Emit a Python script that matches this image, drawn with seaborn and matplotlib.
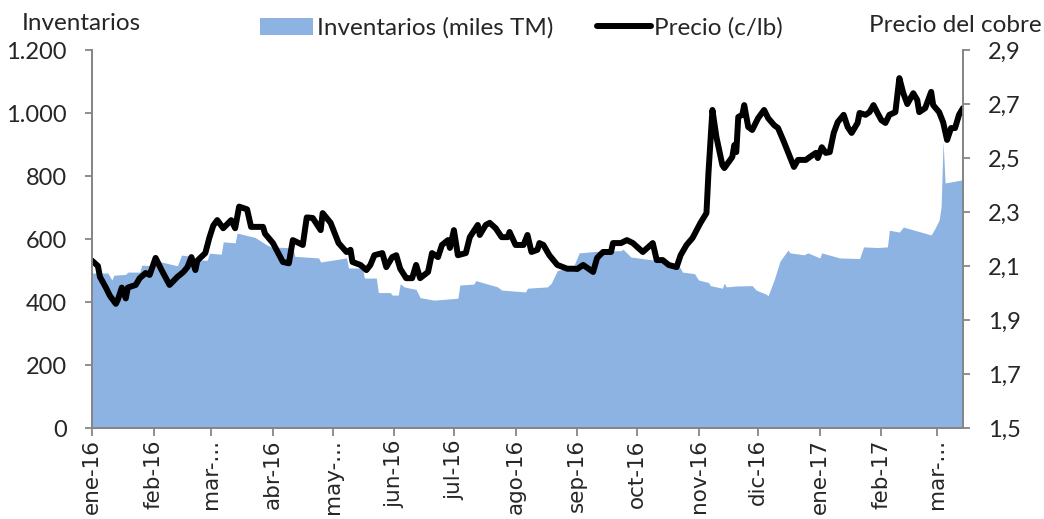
import matplotlib
matplotlib.use("Agg")
import matplotlib.pyplot as plt
from matplotlib.lines import Line2D
from matplotlib.patches import Patch
import pandas as pd
import seaborn as sns

# precio del cobre (US$/lb), lectura aproximada del grafico
precio_fechas = [
    "2016-01-01", "2016-01-04", "2016-01-05", "2016-01-08", "2016-01-10", "2016-01-13",
    "2016-01-14", "2016-01-16", "2016-01-18", "2016-01-19", "2016-01-23", "2016-01-25",
    "2016-01-28", "2016-01-30", "2016-02-02", "2016-02-05", "2016-02-09", "2016-02-13",
    "2016-02-16", "2016-02-18", "2016-02-20", "2016-02-22", "2016-02-23", "2016-02-27",
    "2016-02-29", "2016-03-02", "2016-03-04", "2016-03-07", "2016-03-11", "2016-03-13",
    "2016-03-15", "2016-03-19", "2016-03-21", "2016-03-27", "2016-03-28", "2016-04-01",
    "2016-04-06", "2016-04-09", "2016-04-11", "2016-04-16", "2016-04-18", "2016-04-21",
    "2016-04-25", "2016-04-26", "2016-04-30", "2016-05-04", "2016-05-08", "2016-05-10",
    "2016-05-11", "2016-05-15", "2016-05-18", "2016-05-20", "2016-05-22", "2016-05-26",
    "2016-05-28", "2016-05-31", "2016-06-02", "2016-06-04", "2016-06-07", "2016-06-10",
    "2016-06-12", "2016-06-14", "2016-06-18", "2016-06-20", "2016-06-23", "2016-06-25",
    "2016-06-28", "2016-06-29", "2016-07-01", "2016-07-03", "2016-07-07", "2016-07-09",
    "2016-07-13", "2016-07-14", "2016-07-17", "2016-07-19", "2016-07-22", "2016-07-25",
    "2016-07-28", "2016-07-29", "2016-08-01", "2016-08-05", "2016-08-07", "2016-08-09",
    "2016-08-12", "2016-08-13", "2016-08-15", "2016-08-18", "2016-08-22", "2016-08-27",
    "2016-08-30", "2016-09-01", "2016-09-04", "2016-09-09", "2016-09-11", "2016-09-14",
    "2016-09-18", "2016-09-19", "2016-09-23", "2016-09-26", "2016-09-29", "2016-10-04",
    "2016-10-09", "2016-10-11", "2016-10-14", "2016-10-17", "2016-10-21", "2016-10-23",
    "2016-10-26", "2016-10-29", "2016-11-02", "2016-11-05", "2016-11-06", "2016-11-08",
    "2016-11-10", "2016-11-13", "2016-11-14", "2016-11-18", "2016-11-19", "2016-11-20",
    "2016-11-21", "2016-11-23", "2016-11-24", "2016-11-26", "2016-11-28", "2016-12-01",
    "2016-12-04", "2016-12-06", "2016-12-09", "2016-12-11", "2016-12-14", "2016-12-17",
    "2016-12-19", "2016-12-21", "2016-12-25", "2016-12-27", "2016-12-30", "2016-12-31",
    "2017-01-02", "2017-01-04", "2017-01-06", "2017-01-08", "2017-01-10", "2017-01-13",
    "2017-01-15", "2017-01-17", "2017-01-20", "2017-01-21", "2017-01-24", "2017-01-26",
    "2017-01-28", "2017-01-30", "2017-02-01", "2017-02-03", "2017-02-05", "2017-02-08",
    "2017-02-10", "2017-02-12", "2017-02-14", "2017-02-17", "2017-02-19", "2017-02-20",
    "2017-02-23", "2017-02-26", "2017-02-27", "2017-03-02", "2017-03-04", "2017-03-06",
    "2017-03-08", "2017-03-10", "2017-03-12", "2017-03-14",
]
precio = [
    2.12, 2.10, 2.06, 2.02, 1.99, 1.96,
    1.975, 2.02, 1.98, 2.02, 2.03, 2.055,
    2.074, 2.067, 2.13, 2.085, 2.03, 2.06,
    2.078, 2.096, 2.133, 2.085, 2.12, 2.148,
    2.204, 2.25, 2.27, 2.24, 2.27, 2.24,
    2.32, 2.31, 2.245, 2.245, 2.22, 2.185,
    2.115, 2.11, 2.196, 2.178, 2.28, 2.278,
    2.233, 2.296, 2.26, 2.185, 2.152, 2.16,
    2.115, 2.104, 2.085, 2.104, 2.14, 2.148,
    2.096, 2.133, 2.14, 2.09, 2.055, 2.055,
    2.104, 2.055, 2.078, 2.148, 2.133, 2.178,
    2.196, 2.167, 2.233, 2.14, 2.148, 2.207,
    2.252, 2.215, 2.252, 2.26, 2.24, 2.207,
    2.207, 2.226, 2.178, 2.178, 2.215, 2.152,
    2.16, 2.185, 2.178, 2.14, 2.104, 2.09,
    2.09, 2.089, 2.104, 2.078, 2.13, 2.152,
    2.152, 2.185, 2.185, 2.196, 2.185, 2.152,
    2.185, 2.122, 2.122, 2.104, 2.096, 2.14,
    2.178, 2.204, 2.26, 2.296, 2.444, 2.678,
    2.578, 2.474, 2.463, 2.504, 2.548, 2.522,
    2.652, 2.66, 2.696, 2.615, 2.604, 2.648,
    2.678, 2.648, 2.622, 2.611, 2.559, 2.504,
    2.467, 2.493, 2.493, 2.504, 2.519, 2.50,
    2.54, 2.519, 2.522, 2.593, 2.633, 2.66,
    2.615, 2.593, 2.63, 2.667, 2.66, 2.67,
    2.696, 2.667, 2.64, 2.63, 2.66, 2.67,
    2.796, 2.74, 2.70, 2.74, 2.715, 2.67,
    2.685, 2.745, 2.696, 2.67, 2.633, 2.567,
    2.611, 2.611, 2.66, 2.685,
]

# inventarios (miles TM)
inv_fechas = [
    "2016-01-01", "2016-01-09", "2016-01-11", "2016-01-12", "2016-01-18", "2016-01-19",
    "2016-01-25", "2016-01-26", "2016-02-02", "2016-02-03", "2016-02-13", "2016-02-15",
    "2016-02-19", "2016-02-20", "2016-02-28", "2016-02-29", "2016-03-06", "2016-03-07",
    "2016-03-13", "2016-03-14", "2016-03-23", "2016-03-29", "2016-03-31", "2016-04-11",
    "2016-04-12", "2016-04-24", "2016-04-25", "2016-05-08", "2016-05-09", "2016-05-16",
    "2016-05-17", "2016-05-23", "2016-05-24", "2016-05-30", "2016-05-31", "2016-06-03",
    "2016-06-04", "2016-06-06", "2016-06-12", "2016-06-14", "2016-06-21", "2016-07-03",
    "2016-07-04", "2016-07-11", "2016-07-12", "2016-07-23", "2016-07-25", "2016-08-06",
    "2016-08-07", "2016-08-17", "2016-08-19", "2016-08-22", "2016-08-30", "2016-09-02",
    "2016-09-13", "2016-09-23", "2016-09-24", "2016-09-28", "2016-10-06", "2016-10-17",
    "2016-10-22", "2016-10-24", "2016-10-30", "2016-11-01", "2016-11-06", "2016-11-07",
    "2016-11-13", "2016-11-14", "2016-11-15", "2016-11-20", "2016-11-28", "2016-11-30",
    "2016-12-05", "2016-12-06", "2016-12-09", "2016-12-12", "2016-12-16", "2016-12-17",
    "2016-12-24", "2016-12-26", "2017-01-01", "2017-01-02", "2017-01-11", "2017-01-21",
    "2017-01-23", "2017-01-30", "2017-02-04", "2017-02-05", "2017-02-10", "2017-02-12",
    "2017-02-26", "2017-02-28", "2017-03-02", "2017-03-03", "2017-03-04", "2017-03-05",
    "2017-03-13", "2017-03-14",
]
inventarios = [
    492, 492, 470, 485, 488, 495,
    495, 517, 515, 530, 515, 549,
    546, 533, 533, 555, 552, 591,
    588, 619, 605, 581, 575, 572,
    545, 540, 527, 540, 508, 508,
    476, 476, 430, 430, 422, 422,
    458, 448, 440, 414, 406, 412,
    454, 457, 468, 448, 438, 432,
    444, 448, 460, 500, 511, 556,
    562, 563, 568, 543, 536, 527,
    517, 495, 490, 470, 462, 452,
    444, 460, 448, 451, 452, 438,
    425, 420, 470, 530, 565, 556,
    550, 556, 540, 556, 540, 538,
    575, 573, 575, 628, 622, 638,
    613, 635, 660, 702, 910, 778,
    787, 794,
]

meses = ["ene-16", "feb-16", "mar-...", "abr-16", "may-...", "jun-16", "jul-16", "ago-16",
         "sep-16", "oct-16", "nov-16", "dic-16", "ene-17", "feb-17", "mar-..."]
inv_ticks = [0, 200, 400, 600, 800, 1000, 1200]
inv_labels = ["0", "200", "400", "600", "800", "1.000", "1.200"]
precio_ticks = [1.5, 1.7, 1.9, 2.1, 2.3, 2.5, 2.7, 2.9]
precio_labels = ["1,5", "1,7", "1,9", "2,1", "2,3", "2,5", "2,7", "2,9"]

df_p = pd.DataFrame({"fecha": pd.to_datetime(precio_fechas), "precio": precio})
df_i = pd.DataFrame({"fecha": pd.to_datetime(inv_fechas), "inv": inventarios})

sns.set_style("white")
plt.rcParams["font.family"] = ["Lato", "DejaVu Sans"]

area_color = "#8db3e2"
grey = "#868686"

fig = plt.figure(figsize=(10.44, 5.19), dpi=100)
ax = fig.add_axes([0.0881, 0.1753, 0.8343, 0.7283])
ax2 = ax.twinx()

ax.fill_between(df_i["fecha"], 0, df_i["inv"], color=area_color, linewidth=0)
sns.lineplot(data=df_p, x="fecha", y="precio", ax=ax2, color="black", linewidth=4.3,
             legend=False)

ax.set_xlim(pd.Timestamp("2016-01-01"), pd.Timestamp("2017-03-14"))
ax.set_ylim(0, 1200)
ax2.set_ylim(1.5, 2.9)

ax.set_yticks(inv_ticks)
ax.set_yticklabels(inv_labels)
ax2.set_yticks(precio_ticks)
ax2.set_yticklabels(precio_labels)

mes_ticks = pd.date_range("2016-01-01", periods=len(meses), freq="MS")
ax.set_xticks(mes_ticks)
ax.set_xticklabels(meses, rotation=90, fontfamily="DejaVu Sans", fontsize=15.5)
ax.set_xlabel("")
ax.set_ylabel("")
ax2.set_xlabel("")
ax2.set_ylabel("")

for a in (ax, ax2):
    a.spines["top"].set_visible(False)
    for s in ("left", "right", "bottom"):
        a.spines[s].set_color(grey)
        a.spines[s].set_linewidth(1.3)
ax.tick_params(axis="y", labelsize=17, length=5, color=grey, width=1.3, pad=13, left=True)
ax2.tick_params(axis="y", labelsize=17, length=5, color=grey, width=1.3, pad=13, right=True)
ax.tick_params(axis="x", length=6, color=grey, width=1.3, pad=2, bottom=True)

fig.text(22 / 1044, 1 - 23 / 519, "Inventarios", fontsize=17.5, ha="left", va="center")
fig.text(1042 / 1044, 1 - 25 / 519, "Precio del cobre", fontsize=17.5, ha="right", va="center")

handles = [Patch(facecolor=area_color, edgecolor="none"),
           Line2D([], [], color="black", linewidth=4.3)]
fig.legend(handles, ["Inventarios (miles TM)", "Precio (c/lb)"], loc="center left",
           bbox_to_anchor=(260 / 1044, 1 - 28 / 519), ncol=2, frameon=False, fontsize=17.5,
           borderpad=0, borderaxespad=0, handlelength=2.2, handletextpad=0.15,
           columnspacing=1.8)

fig.savefig("out.png", dpi=100)
